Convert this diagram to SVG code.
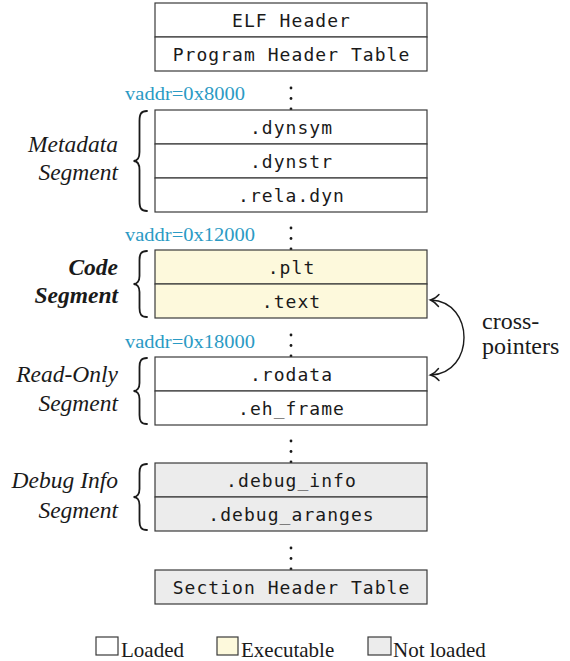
<svg xmlns="http://www.w3.org/2000/svg" width="570" height="661" viewBox="0 0 570 661">
  <style>
    .box { stroke: #3a3a3a; stroke-width: 1.2; }
    .load { fill: #ffffff; }
    .exec { fill: #fdf9dc; }
    .nold { fill: #ececec; }
    .sec { font-family: "DejaVu Sans Mono", monospace; font-size: 18px; letter-spacing: 1.05px; fill: #1a1a1a; text-anchor: middle; }
    .seg { font-family: "Liberation Serif", serif; font-size: 23.5px; font-style: italic; fill: #1a1a1a; text-anchor: end; }
    .bold { font-weight: bold; }
    .vaddr { font-family: "Liberation Serif", serif; font-size: 19.5px; fill: #2a9ac4; }
    .note { font-family: "Liberation Serif", serif; font-size: 24px; fill: #1a1a1a; }
    .legend { font-family: "Liberation Serif", serif; font-size: 21px; fill: #1a1a1a; }
    .brace { fill: none; stroke: #1a1a1a; stroke-width: 1.8; stroke-linecap: round; }
    .dot { fill: #1a1a1a; }
    .conn { fill: none; stroke: #1a1a1a; stroke-width: 1.4; stroke-linecap: round; }
  </style>

  <!-- vertical ellipses between sections -->
  <g id="vdots">
    <circle class="dot" cx="291" cy="88" r="1.4"/><circle class="dot" cx="291" cy="98.5" r="1.4"/><circle class="dot" cx="291" cy="109" r="1.4"/>
    <circle class="dot" cx="291" cy="228" r="1.4"/><circle class="dot" cx="291" cy="238.5" r="1.4"/><circle class="dot" cx="291" cy="249" r="1.4"/>
    <circle class="dot" cx="291" cy="335" r="1.4"/><circle class="dot" cx="291" cy="345.5" r="1.4"/><circle class="dot" cx="291" cy="356" r="1.4"/>
    <circle class="dot" cx="291" cy="441" r="1.4"/><circle class="dot" cx="291" cy="451.5" r="1.4"/><circle class="dot" cx="291" cy="462" r="1.4"/>
    <circle class="dot" cx="291" cy="548" r="1.4"/><circle class="dot" cx="291" cy="558.5" r="1.4"/><circle class="dot" cx="291" cy="569" r="1.4"/>
  </g>

  <!-- file headers -->
  <g id="elf-header">
    <rect class="box load" x="155" y="3" width="272" height="34"/>
    <text class="sec" x="291.5" y="27">ELF Header</text>
  </g>
  <g id="program-header-table">
    <rect class="box load" x="155" y="37" width="272" height="34"/>
    <text class="sec" x="291.5" y="61">Program Header Table</text>
  </g>

  <!-- metadata segment -->
  <g id="metadata-segment">
    <text class="vaddr" x="125" y="100" textLength="120" lengthAdjust="spacingAndGlyphs">vaddr=0x8000</text>
    <text class="seg" x="118" y="152">Metadata</text>
    <text class="seg" x="118" y="180">Segment</text>
    <path class="brace" d="M147 111 C141 111 139.5 114 139.5 121 L139.5 152 C139.5 158 137 161 133.5 161 C137 161 139.5 164 139.5 170 L139.5 201 C139.5 208 141 211 147 211"/>
  </g>
  <g id="dynsym">
    <rect class="box load" x="155" y="110" width="272" height="34"/>
    <text class="sec" x="291.5" y="134">.dynsym</text>
  </g>
  <g id="dynstr">
    <rect class="box load" x="155" y="144" width="272" height="34"/>
    <text class="sec" x="291.5" y="168">.dynstr</text>
  </g>
  <g id="rela-dyn">
    <rect class="box load" x="155" y="178" width="272" height="34"/>
    <text class="sec" x="291.5" y="202">.rela.dyn</text>
  </g>

  <!-- code segment -->
  <g id="code-segment">
    <text class="vaddr" x="125" y="241" textLength="130" lengthAdjust="spacingAndGlyphs">vaddr=0x12000</text>
    <text class="seg bold" x="118" y="275">Code</text>
    <text class="seg bold" x="118" y="303">Segment</text>
    <path class="brace" d="M147 251 C141 251 139.5 254 139.5 260 L139.5 276 C139.5 281 137 284 133.5 284 C137 284 139.5 287 139.5 292 L139.5 308 C139.5 314 141 317 147 317"/>
  </g>
  <g id="plt">
    <rect class="box exec" x="155" y="250" width="272" height="34"/>
    <text class="sec" x="291.5" y="274">.plt</text>
  </g>
  <g id="text">
    <rect class="box exec" x="155" y="284" width="272" height="34"/>
    <text class="sec" x="291.5" y="308">.text</text>
  </g>

  <!-- read-only segment -->
  <g id="read-only-segment">
    <text class="vaddr" x="125" y="348" textLength="130" lengthAdjust="spacingAndGlyphs">vaddr=0x18000</text>
    <text class="seg" x="118" y="382">Read-Only</text>
    <text class="seg" x="118" y="411">Segment</text>
    <path class="brace" d="M147 358 C141 358 139.5 361 139.5 367 L139.5 383 C139.5 388 137 391 133.5 391 C137 391 139.5 394 139.5 399 L139.5 415 C139.5 421 141 424 147 424"/>
  </g>
  <g id="rodata">
    <rect class="box load" x="155" y="357" width="272" height="34"/>
    <text class="sec" x="291.5" y="381">.rodata</text>
  </g>
  <g id="eh-frame">
    <rect class="box load" x="155" y="391" width="272" height="34"/>
    <text class="sec" x="291.5" y="415">.eh_frame</text>
  </g>

  <!-- debug info segment -->
  <g id="debug-info-segment">
    <text class="seg" x="118" y="488">Debug Info</text>
    <text class="seg" x="118" y="518">Segment</text>
    <path class="brace" d="M147 464 C141 464 139.5 467 139.5 473 L139.5 489 C139.5 494 137 497 133.5 497 C137 497 139.5 500 139.5 505 L139.5 521 C139.5 527 141 530 147 530"/>
  </g>
  <g id="debug-info">
    <rect class="box nold" x="155" y="463" width="272" height="34"/>
    <text class="sec" x="291.5" y="487">.debug_info</text>
  </g>
  <g id="debug-aranges">
    <rect class="box nold" x="155" y="497" width="272" height="34"/>
    <text class="sec" x="291.5" y="521">.debug_aranges</text>
  </g>

  <!-- section header table -->
  <g id="section-header-table">
    <rect class="box nold" x="155" y="570" width="272" height="34"/>
    <text class="sec" x="291.5" y="594">Section Header Table</text>
  </g>

  <!-- connectors -->
  <g id="connectors">
    <path class="conn" d="M431 300 C475 302 475 373 431 375"/>
    <path class="conn" d="M439 294.5 Q435 299 430.5 300 Q435 302 438.5 306.5"/>
    <path class="conn" d="M438.5 368.5 Q435 373 430.5 375 Q435 376 439 380.5"/>
  </g>
  <g id="cross-pointers-label">
    <text class="note" x="482" y="329">cross-</text>
    <text class="note" x="482" y="354">pointers</text>
  </g>

  <!-- legend -->
  <g id="legend">
    <rect class="box load" x="96" y="637" width="22" height="18"/>
    <text class="legend" x="121" y="657">Loaded</text>
    <rect class="box exec" x="217" y="637" width="21" height="18"/>
    <text class="legend" x="241" y="657">Executable</text>
    <rect class="box nold" x="368" y="637" width="23" height="18"/>
    <text class="legend" x="393" y="657">Not loaded</text>
  </g>
</svg>
